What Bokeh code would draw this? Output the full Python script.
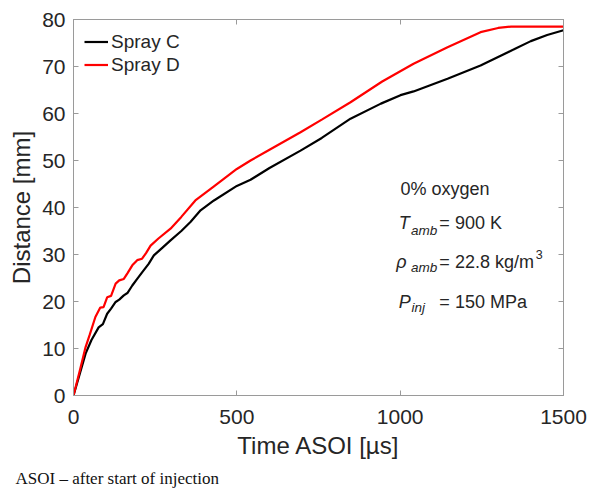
from bokeh.plotting import figure
from bokeh.models import Range1d, LinearAxis, Legend, LegendItem, Label, Title, FixedTicker
from bokeh.embed import file_html
from bokeh.resources import INLINE

# ---- data ----
time_c = [0, 20, 37, 55, 77, 90, 103, 115, 129, 140, 154, 165, 180, 195, 210, 230, 246,
          270, 297, 330, 358, 389, 430, 500, 542, 600, 695, 760, 848, 941, 1001, 1041,
          1145, 1246, 1347, 1400, 1450, 1500]
dist_c = [0, 4.8, 8.9, 11.8, 14.5, 15.2, 17.4, 18.5, 19.9, 20.4, 21.3, 21.8, 23.4, 24.8,
          26.2, 28.0, 29.8, 31.3, 33.0, 35.0, 36.9, 39.4, 41.5, 44.6, 45.9, 48.4, 52.1,
          54.8, 58.9, 62.1, 63.9, 64.7, 67.4, 70.2, 73.6, 75.4, 76.7, 77.7]

time_d = [0, 20, 37, 50, 67, 82, 92, 103, 115, 129, 140, 154, 165, 180, 195, 210, 222,
          236, 260, 297, 330, 373, 430, 500, 542, 600, 695, 760, 848, 945, 1041, 1145,
          1246, 1300, 1340, 1400, 1500]
dist_d = [0, 5.5, 10.3, 13.0, 16.7, 18.7, 18.8, 20.9, 21.2, 23.8, 24.5, 24.8, 26.0, 27.7,
          28.8, 29.1, 30.3, 31.9, 33.4, 35.5, 38.0, 41.5, 44.5, 48.2, 50.0, 52.3, 56.0,
          58.7, 62.4, 66.8, 70.6, 74.1, 77.3, 78.2, 78.5, 78.5, 78.5]

series_names = ["Spray C", "Spray D"]
series_colors = ["#000000", "#ff0000"]
x_ticks = [0, 500, 1000, 1500]
y_ticks = [0, 10, 20, 30, 40, 50, 60, 70, 80]

FONT = "Liberation Sans"
AX = "#9a9a9a"
TXT = "#262626"

p = figure(width=590, height=493, output_backend="svg", toolbar_location=None,
           x_range=Range1d(0, 1500), y_range=Range1d(0, 80),
           min_border_left=73, min_border_right=27, min_border_top=19,
           min_border_bottom=98)
p.grid.visible = False
p.outline_line_color = AX
p.background_fill_color = "white"
p.border_fill_color = "white"

r_c = p.line(time_c, dist_c, color=series_colors[0], line_width=2.2)
r_d = p.line(time_d, dist_d, color=series_colors[1], line_width=2.2)

def style(ax, ticks, labels=True):
    ax.ticker = FixedTicker(ticks=ticks)
    ax.axis_line_color = AX
    ax.major_tick_line_color = AX
    ax.major_tick_in = 5
    ax.major_tick_out = 0
    ax.minor_tick_line_color = None
    ax.major_label_text_font = FONT
    ax.major_label_text_color = TXT
    ax.major_label_text_font_size = "21px"
    ax.axis_label_text_font = FONT
    ax.axis_label_text_font_style = "normal"
    ax.axis_label_text_color = TXT
    ax.axis_label_text_font_size = "24px"
    if not labels:
        ax.major_label_overrides = {t: "" for t in ticks}
        ax.major_label_standoff = 0

style(p.xaxis[0], x_ticks)
style(p.yaxis[0], y_ticks)
p.xaxis[0].axis_label = "Time ASOI [µs]"
p.yaxis[0].axis_label = "Distance [mm]"
p.xaxis[0].major_label_standoff = 14
p.xaxis[0].axis_label_standoff = 5
p.yaxis[0].major_label_standoff = 8
p.yaxis[0].axis_label_standoff = 4

top = LinearAxis()
style(top, x_ticks, labels=False)
p.add_layout(top, "above")
right = LinearAxis()
style(right, y_ticks, labels=False)
p.add_layout(right, "right")

legend = Legend(items=[LegendItem(label=series_names[0], renderers=[r_c]),
                       LegendItem(label=series_names[1], renderers=[r_d])],
                location="top_left", border_line_color=None, background_fill_alpha=0,
                margin=11, padding=0, spacing=0, glyph_width=24, glyph_height=23,
                label_height=23, label_standoff=3,
                label_text_font=FONT, label_text_font_size="19px", label_text_color=TXT)
p.add_layout(legend, "center")

def lab(x, y, text, size="18px", style="normal"):
    p.add_layout(Label(x=x, y=y, text=text, text_font=FONT, text_font_size=size,
                       text_font_style=style, text_color=TXT, text_baseline="alphabetic",
                       text_align="left"))

lab(1001, 44.0, "0% oxygen")
lab(996, 36.8, "T", style="italic")
lab(1033, 35.1, "amb", size="13.5px", style="italic")
lab(1120, 36.8, "= 900 K")
lab(988, 28.5, "ρ", style="italic")
lab(1033, 27.3, "amb", size="13.5px", style="italic")
lab(1120, 28.5, "= 22.8 kg/m")
lab(1415, 29.9, "3", size="12.5px")
lab(996, 19.8, "P", style="italic")
lab(1035, 18.8, "inj", size="13.5px", style="italic")
lab(1120, 19.8, "= 150 MPa")

cap = Title(text="ASOI – after start of injection", align="left", offset=-58,
            text_font="Liberation Serif", text_font_size="17px",
            text_font_style="normal", text_color="#111111", standoff=10)
p.add_layout(cap, "below")

open("out.html", "w").write(file_html(p, INLINE))
